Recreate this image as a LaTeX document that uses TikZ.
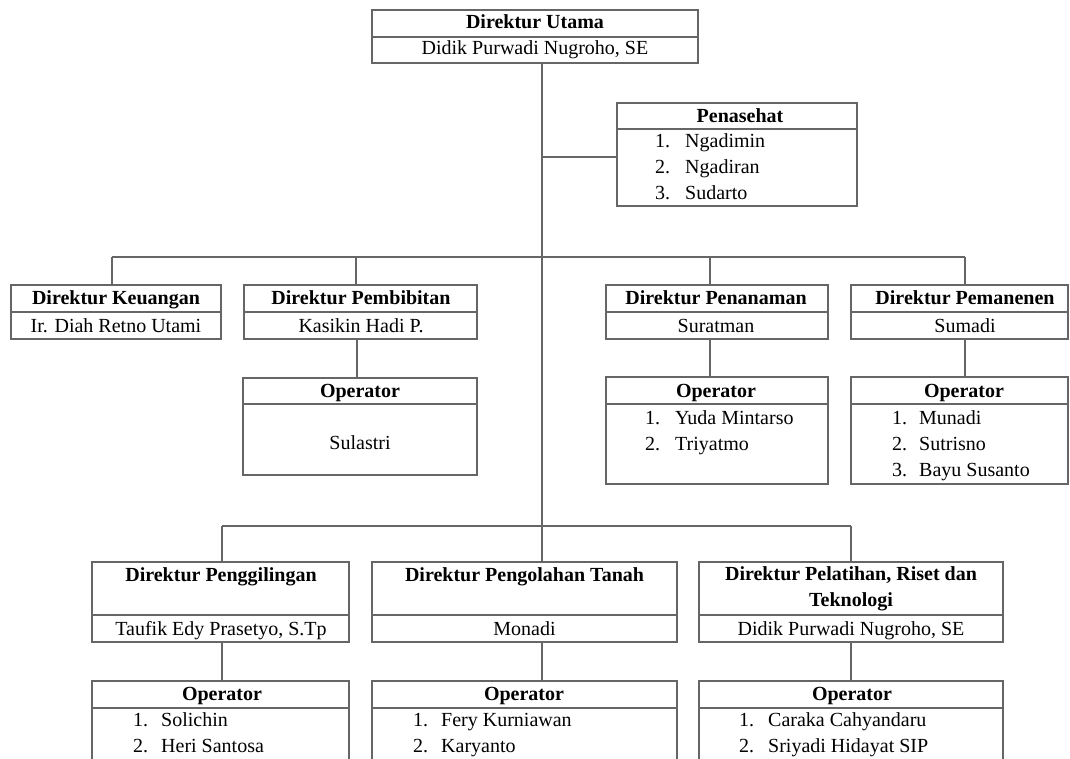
\documentclass[tikz,border=0pt]{standalone}
\usepackage{fontspec}
\setmainfont{Liberation Serif}
\newcommand{\obox}[6]{%
  \node[obox, minimum width={(#4-#2)*1pt}, minimum height={(#5-#3)*1pt}] (#1) at (#2,#3) {};
  \draw[ln] (#2,#6) -- (#4,#6);}
\newcommand{\lit}[3]{\makebox[#1pt][l]{#2}#3}
\begin{document}
\begin{tikzpicture}[x=1pt,y=-1pt,
  ln/.style={draw=black!60, line width=1.3pt},
  obox/.style={ln, rectangle, inner sep=0pt, outer sep=0pt, anchor=north west},
  hd/.style={font=\fontsize{20}{26}\selectfont\bfseries, anchor=base, inner sep=0pt},
  tx/.style={font=\fontsize{20}{26}\selectfont, anchor=base, inner sep=0pt},
  lst/.style={font=\fontsize{20}{26}\selectfont, anchor=base west, inner sep=0pt}]
\useasboundingbox (0,0) rectangle (1070,759);
\clip (0,0) rectangle (1070,759);

% boxes
\obox{utama}{372}{10}{698}{63}{37}
\obox{pen}{617}{103}{857}{206}{129}
\obox{keu}{11}{285}{221}{339}{312}
\obox{pemb}{244}{285}{477}{339}{312}
\obox{pnm}{606}{285}{828}{339}{312}
\obox{pmn}{851}{285}{1068}{339}{312}
\obox{opPemb}{243}{378}{477}{475}{404}
\obox{opPnm}{606}{377}{828}{484}{404}
\obox{opPmn}{851}{377}{1068}{484}{404}
\obox{ggl}{92}{562}{349}{642}{615}
\obox{olh}{372}{562}{677}{642}{615}
\obox{plt}{699}{562}{1003}{642}{615}
\obox{opGgl}{92}{681}{349}{790}{708}
\obox{opOlh}{372}{681}{677}{790}{708}
\obox{opPlt}{699}{681}{1003}{790}{708}

% connector coordinates
\coordinate (trunk) at (542,0);
\coordinate (pj) at (542,157);
\coordinate (bus1L) at (112,257);
\coordinate (bus1R) at (965,257);
\coordinate (t2) at (356,257);
\coordinate (t3) at (710,257);
\coordinate (t5) at (357,0);
\coordinate (bus2L) at (222,526);
\coordinate (bus2R) at (851,526);

% connectors
\draw[ln] (utama.south -| trunk) -- (olh.north -| trunk);
\draw[ln] (pj) -- (pj -| pen.west);
\draw[ln] (bus1L) -- (bus1R);
\draw[ln] (bus1L) -- (bus1L |- keu.north);
\draw[ln] (t2) -- (t2 |- pemb.north);
\draw[ln] (t3) -- (t3 |- pnm.north);
\draw[ln] (bus1R) -- (bus1R |- pmn.north);
\draw[ln] (pemb.south -| t5) -- (opPemb.north -| t5);
\draw[ln] (pnm.south -| t3) -- (opPnm.north -| t3);
\draw[ln] (pmn.south -| bus1R) -- (opPmn.north -| bus1R);
\draw[ln] (bus2L) -- (bus2R);
\draw[ln] (bus2L) -- (bus2L |- ggl.north);
\draw[ln] (bus2R) -- (bus2R |- plt.north);
\draw[ln] (ggl.south -| bus2L) -- (opGgl.north -| bus2L);
\draw[ln] (olh.south -| trunk) -- (opOlh.north -| trunk);
\draw[ln] (plt.south -| bus2R) -- (opPlt.north -| bus2R);

% texts
\node[hd] (tUtamaH) at (535,29) {Direktur Utama};
\node[tx] (tUtamaN) at (535,55) {Didik Purwadi Nugroho, SE};
\node[hd] (tPenH) at (740,123) {Penasehat};
\node[lst] (tPenL) at (655,148) {\begin{tabular}[t]{@{}l@{}}\lit{30}{1.}{Ngadimin}\\\lit{30}{2.}{Ngadiran}\\\lit{30}{3.}{Sudarto}\end{tabular}};

\node[hd] (tKeuH) at (116,304) {Direktur Keuangan};
\node[tx] (tKeuN) at (116,332) {Ir. Diah Retno Utami};
\node[hd] (tPembH) at (361,304) {Direktur Pembibitan};
\node[tx] (tPembN) at (361,332) {Kasikin Hadi P.};
\node[hd] (tPnmH) at (716,304) {Direktur Penanaman};
\node[tx] (tPnmN) at (716,332) {Suratman};
\node[hd] (tPmnH) at (965,304) {Direktur Pemanenen};
\node[tx] (tPmnN) at (965,332) {Sumadi};

\node[hd] (tOp1) at (360,397) {Operator};
\node[tx] (tOp1N) at (360,449) {Sulastri};
\node[hd] (tOp2) at (716,397) {Operator};
\node[lst] (tOp2L) at (645,424) {\begin{tabular}[t]{@{}l@{}}\lit{30}{1.}{Yuda Mintarso}\\\lit{30}{2.}{Triyatmo}\end{tabular}};
\node[hd] (tOp3) at (964,397) {Operator};
\node[lst] (tOp3L) at (892,424) {\begin{tabular}[t]{@{}l@{}}\lit{27}{1.}{Munadi}\\\lit{27}{2.}{Sutrisno}\\\lit{27}{3.}{Bayu Susanto}\end{tabular}};

\node[hd] (tGglH) at (221,581) {Direktur Penggilingan};
\node[tx] (tGglN) at (221,635) {Taufik Edy Prasetyo, S.Tp};
\node[hd] (tOlhH) at (524.5,581) {Direktur Pengolahan Tanah};
\node[tx] (tOlhN) at (524.5,635) {Monadi};
\node[hd, align=center, anchor=center] (tPltH) at (851,589) {Direktur Pelatihan, Riset dan\\Teknologi};
\node[tx] (tPltN) at (851,635) {Didik Purwadi Nugroho, SE};

\node[hd] (tOp4) at (222,700) {Operator};
\node[lst] (tOp4L) at (133,726) {\begin{tabular}[t]{@{}l@{}}\lit{28}{1.}{Solichin}\\\lit{28}{2.}{Heri Santosa}\end{tabular}};
\node[hd] (tOp5) at (524,700) {Operator};
\node[lst] (tOp5L) at (413,726) {\begin{tabular}[t]{@{}l@{}}\lit{28}{1.}{Fery Kurniawan}\\\lit{28}{2.}{Karyanto}\end{tabular}};
\node[hd] (tOp6) at (852,700) {Operator};
\node[lst] (tOp6L) at (739,726) {\begin{tabular}[t]{@{}l@{}}\lit{29}{1.}{Caraka Cahyandaru}\\\lit{29}{2.}{Sriyadi Hidayat SIP}\end{tabular}};
\end{tikzpicture}
\end{document}
